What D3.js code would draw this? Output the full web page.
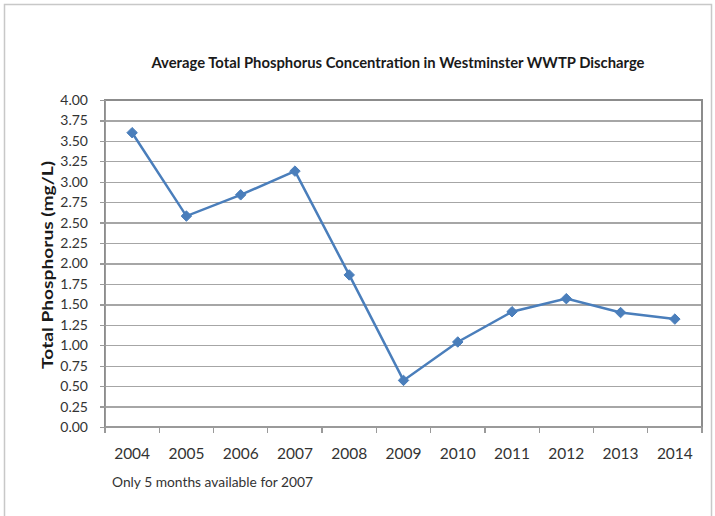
<html>
<script src="https://d3js.org/d3.v7.min.js"></script>
<style>
    body { margin: 0; background: #fff; }
    .grid line {
        stroke: #a6a6a6;
        stroke-width: 1.3;
        shape-rendering: crispEdges;
    }
    .grid path { stroke-width: 0; }
    .axis path,
    .axis line {
        fill: none;
        stroke: #9a9a9a;
        stroke-width: 1.3;
        shape-rendering: crispEdges;
    }
    .axis text {
        font-family: Lato, "Open Sans", sans-serif;
        font-size: 14px;
        fill: #333;
    }
</style>
<body>
<svg id="chart" width=715 height=516></svg>
<script>
// chart values
var years = ["2004", "2005", "2006", "2007", "2008", "2009", "2010", "2011", "2012", "2013", "2014"];
var phosphorus = [3.60, 2.58, 2.84, 3.13, 1.86, 0.57, 1.04, 1.41, 1.57, 1.40, 1.32];
var yTicks = [0, 0.25, 0.5, 0.75, 1, 1.25, 1.5, 1.75, 2, 2.25, 2.5, 2.75, 3, 3.25, 3.5, 3.75, 4];

var margin = {top: 100, right: 13, bottom: 89, left: 105},
    width = 715 - margin.left - margin.right,
    height = 516 - margin.top - margin.bottom;

var root = d3.select("#chart");

// outer chart frame
root.append("rect")
    .attr("x", 4.5).attr("y", 4.5)
    .attr("width", 707).attr("height", 520)
    .attr("fill", "none")
    .attr("stroke", "#c8c8c8")
    .attr("stroke-width", 1.5);

var svg = root.append("g")
    .attr("transform", "translate(" + margin.left + "," + margin.top + ")");

var x = d3.scaleBand()
    .domain(years)
    .range([0, width]);

var y = d3.scaleLinear()
    .domain([0, 4])
    .range([height, 0]);

// horizontal gridlines
svg.append("g")
    .attr("class", "grid")
    .call(d3.axisLeft(y).tickValues(yTicks).tickSize(-width).tickFormat(""));

// plot area border
svg.append("rect")
    .attr("width", width).attr("height", height)
    .attr("fill", "none")
    .attr("stroke", "#8c8c8c")
    .attr("stroke-width", 1.3)
    .style("shape-rendering", "crispEdges");

// y axis
svg.append("g")
    .attr("class", "axis")
    .call(d3.axisLeft(y).tickValues(yTicks).tickSize(5).tickPadding(12).tickFormat(d3.format(".2f")));

// x axis, ticks sit between the categories
var xAxis = svg.append("g")
    .attr("class", "axis")
    .attr("transform", "translate(0," + height + ")");
xAxis.append("path")
    .attr("d", "M0,0H" + width);
xAxis.selectAll(".sep")
    .data(d3.range(years.length + 1))
    .join("line")
    .attr("x1", function(i) { return i * x.bandwidth(); })
    .attr("x2", function(i) { return i * x.bandwidth(); })
    .attr("y1", 0)
    .attr("y2", 6);
xAxis.selectAll(".lab")
    .data(years)
    .join("text")
    .attr("x", function(d) { return x(d) + x.bandwidth() / 2; })
    .attr("y", 32)
    .attr("text-anchor", "middle")
    .style("font-size", "15.5px")
    .text(function(d) { return d; });

var line = d3.line()
    .x(function(d, i) { return x(years[i]) + x.bandwidth() / 2; })
    .y(function(d) { return y(d); });

svg.append("path")
    .datum(phosphorus)
    .attr("fill", "none")
    .attr("stroke", "#4a7ebb")
    .attr("stroke-width", 2.5)
    .attr("d", line);

svg.selectAll(".pt")
    .data(phosphorus)
    .join("path")
    .attr("d", d3.symbol().type(d3.symbolDiamond2).size(70))
    .attr("transform", function(d, i) {
        return "translate(" + (x(years[i]) + x.bandwidth() / 2) + "," + y(d) + ")";
    })
    .attr("fill", "#4a7ebb")
    .attr("stroke", "#4a7ebb");

// title
root.append("text")
    .attr("x", 398)
    .attr("y", 68)
    .attr("text-anchor", "middle")
    .style("font-family", "Lato, sans-serif")
    .style("font-size", "14.8px")
    .style("font-weight", "bold")
    .style("fill", "#1a1a1a")
    .text("Average Total Phosphorus Concentration in Westminster WWTP Discharge");

// y label (stretched along its length like the original)
root.append("text")
    .attr("transform", "translate(53,265) rotate(-90) scale(1.2,1)")
    .attr("text-anchor", "middle")
    .style("font-family", "Lato, sans-serif")
    .style("font-size", "16px")
    .style("font-weight", "bold")
    .style("fill", "#1a1a1a")
    .text("Total Phosphorus (mg/L)");

// footnote
root.append("text")
    .attr("x", 112)
    .attr("y", 487)
    .style("font-family", "Lato, sans-serif")
    .style("font-size", "13.8px")
    .style("fill", "#333")
    .text("Only 5 months available for 2007");
</script>
</body>
</html>
